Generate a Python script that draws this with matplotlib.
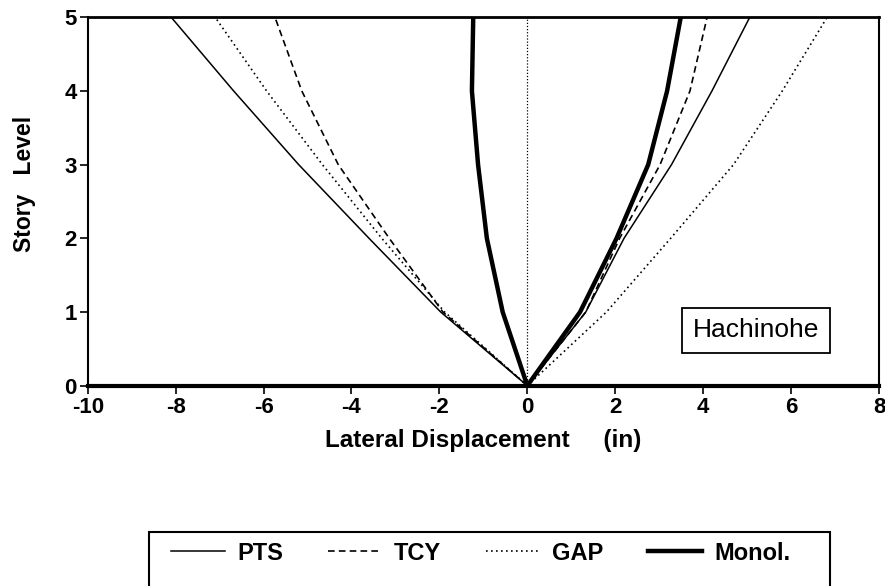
import matplotlib
matplotlib.use("Agg")
import matplotlib.pyplot as plt
from matplotlib.patches import Rectangle

plt.rcParams['font.family'] = ['Liberation Sans', 'DejaVu Sans']
plt.rcParams['axes.unicode_minus'] = False

# story levels and envelope displacements (in)
levels = [0, 1, 2, 3, 4, 5]
pts_neg = [0, -1.97, -3.6, -5.2, -6.68, -8.1]
pts_pos = [0, 1.33, 2.2, 3.28, 4.2, 5.06]
tcy_neg = [0, -1.92, -3.14, -4.3, -5.13, -5.74]
tcy_pos = [0, 1.33, 2.1, 3.02, 3.7, 4.09]
gap_neg = [0, -1.88, -3.31, -4.66, -5.93, -7.1]
gap_pos = [0, 1.8, 3.26, 4.69, 5.8, 6.82]
mono_neg = [0, -0.56, -0.92, -1.12, -1.26, -1.23]
mono_pos = [0, 1.2, 2.03, 2.75, 3.18, 3.49]

x_ticks = [-10, -8, -6, -4, -2, 0, 2, 4, 6, 8]
y_ticks = [0, 1, 2, 3, 4, 5]

fig = plt.figure(figsize=(8.85, 5.86), dpi=100)
ax = fig.add_axes([0.0991, 0.3418, 0.8941, 0.6287])

# zero line
ax.axvline(0, color='black', lw=0.9, linestyle=(0, (1, 1.5)))

styles = {
    'PTS': dict(color='black', lw=1.1, linestyle='-'),
    'TCY': dict(color='black', lw=1.2, linestyle=(0, (4, 2.5))),
    'GAP': dict(color='black', lw=1.2, linestyle=(0, (1, 2))),
    'Monol.': dict(color='black', lw=3.2, linestyle='-'),
}
series = {
    'PTS': (pts_neg, pts_pos),
    'TCY': (tcy_neg, tcy_pos),
    'GAP': (gap_neg, gap_pos),
    'Monol.': (mono_neg, mono_pos),
}
for name, (neg, pos) in series.items():
    ax.plot(neg, levels, label=name, **styles[name])
    ax.plot(pos, levels, **styles[name])

ax.set_xlim(-10, 8)
ax.set_ylim(0, 5)
ax.set_xticks(x_ticks)
ax.set_yticks(y_ticks)
ax.tick_params(direction='out', length=6, width=1.2, labelsize=16, pad=2)
for lab in ax.get_xticklabels() + ax.get_yticklabels():
    lab.set_fontweight('bold')

ax.spines['bottom'].set_linewidth(3)
ax.spines['top'].set_linewidth(2)
ax.spines['left'].set_linewidth(1.5)
ax.spines['right'].set_linewidth(1.5)

ax.set_xlabel('Lateral Displacement     (in)', fontsize=17.5, fontweight='bold', labelpad=8)
ax.set_ylabel('Story   Level', fontsize=16.5, fontweight='bold')
ax.yaxis.set_label_coords(-0.065, 0.547)

ax.text(0.8446, 0.151, 'Hachinohe', transform=ax.transAxes, fontsize=19,
        ha='center', va='center',
        bbox=dict(boxstyle='square,pad=0.4', fc='white', ec='black', lw=1.3))

# legend box runs off the bottom of the figure
fig.patches.append(Rectangle((0.1684, -0.05), 0.7695, 0.1422, transform=fig.transFigure,
                             fill=False, ec='black', lw=1.5))
leg = fig.legend(loc='center', bbox_to_anchor=(0.543, 0.0563), ncol=4, frameon=False,
                 fontsize=17, handlelength=2.3, handletextpad=0.5, columnspacing=1.9)
for t in leg.get_texts():
    t.set_fontweight('bold')

fig.savefig('out.png', dpi=100)
